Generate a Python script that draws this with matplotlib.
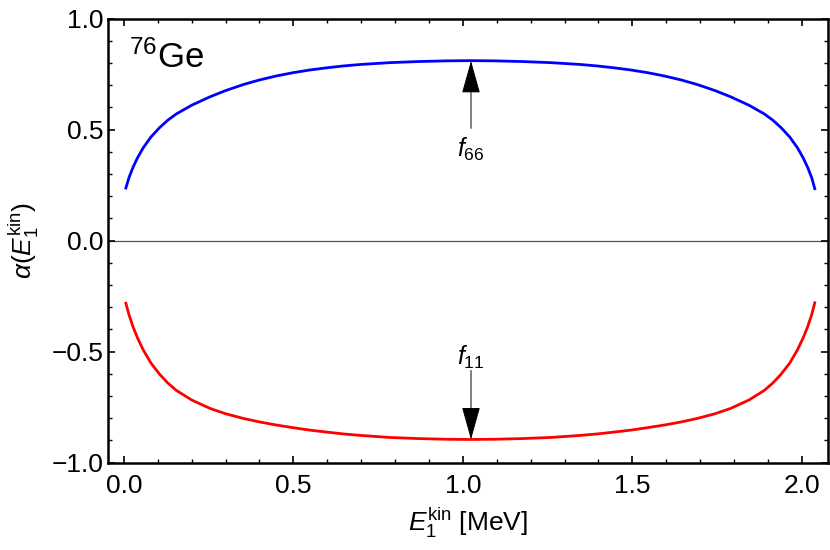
import matplotlib as mpl
mpl.use("agg")
import matplotlib.pyplot as plt
import numpy as np

plt.rcParams["font.family"] = ["Liberation Sans", "DejaVu Sans"]
plt.rcParams["mathtext.fontset"] = "custom"
plt.rcParams["mathtext.rm"] = "Liberation Sans"
plt.rcParams["mathtext.it"] = "Liberation Sans:italic"
plt.rcParams["mathtext.bf"] = "Liberation Sans:bold"

# kinetic energy of electron 1 [MeV]
energy = [0.006, 0.015, 0.027, 0.040, 0.057, 0.080, 0.106, 0.130, 0.155, 0.200,
          0.254, 0.300, 0.352, 0.400, 0.450, 0.500, 0.549, 0.600, 0.647, 0.700,
          0.785, 0.870, 0.950, 1.022,
          1.094, 1.174, 1.259, 1.344, 1.397, 1.444, 1.495, 1.544, 1.594, 1.644,
          1.692, 1.744, 1.790, 1.844, 1.889, 1.914, 1.938, 1.964, 1.987, 2.004,
          2.017, 2.029, 2.038]

# angular correlation coefficient, f66 (blue)
alpha_f66 = [0.237, 0.283, 0.330, 0.372, 0.418, 0.467, 0.510, 0.543, 0.571, 0.610,
             0.648, 0.676, 0.703, 0.724, 0.742, 0.757, 0.769, 0.779, 0.787, 0.794,
             0.802, 0.807, 0.810, 0.811,
             0.810, 0.807, 0.802, 0.794, 0.787, 0.779, 0.769, 0.757, 0.742, 0.724,
             0.703, 0.676, 0.648, 0.610, 0.571, 0.543, 0.510, 0.467, 0.418, 0.372,
             0.330, 0.283, 0.234]

# angular correlation coefficient, f11 (red)
alpha_f11 = [-0.282, -0.333, -0.388, -0.437, -0.492, -0.552, -0.603, -0.642, -0.675, -0.718,
             -0.756, -0.780, -0.801, -0.817, -0.831, -0.843, -0.854, -0.863, -0.871, -0.878,
             -0.887, -0.892, -0.895, -0.896,
             -0.895, -0.892, -0.887, -0.878, -0.871, -0.863, -0.854, -0.843, -0.831, -0.817,
             -0.801, -0.780, -0.756, -0.718, -0.675, -0.642, -0.603, -0.552, -0.492, -0.437,
             -0.388, -0.333, -0.280]

fig = plt.figure(figsize=(8.3, 5.5), dpi=100)
ax = fig.add_axes([0.130, 0.159, 0.8676, 0.807])

ax.axhline(0.0, color="#555555", lw=0.9, zorder=1)
ax.plot(energy, alpha_f66, color="#0000ff", lw=2, zorder=2)
ax.plot(energy, alpha_f11, color="#ff0000", lw=2, zorder=2)

arrow = dict(arrowstyle="-|>,head_length=1.0,head_width=0.28", mutation_scale=21,
             color="black", lw=0.7, shrinkA=0, shrinkB=0)
ax.annotate("", xy=(1.024, 0.81), xytext=(1.024, 0.506), arrowprops=arrow)
ax.annotate("", xy=(1.024, -0.896), xytext=(1.024, -0.585), arrowprops=arrow)
ax.text(1.024, 0.474, r"$f_{66}$", fontsize=18, ha="center", va="top")
ax.text(1.024, -0.589, r"$f_{11}$", fontsize=18, ha="center", va="bottom")

ax.text(0.015, 0.825, r"$^{76}$Ge", fontsize=25, ha="left", va="center")

fmt = mpl.ticker.FuncFormatter(lambda v, p: f"{v:.1f}".replace("-", "\u2212"))
ax.set_xlim(-0.047, 2.077)
ax.set_ylim(-1.0, 1.0)
ax.set_xticks(np.arange(0, 2.01, 0.5))
ax.set_xticks(np.arange(0, 2.08, 0.1), minor=True)
ax.set_yticks(np.arange(-1.0, 1.01, 0.5))
ax.set_yticks(np.arange(-1.0, 1.01, 0.1), minor=True)
ax.xaxis.set_major_formatter(fmt)
ax.yaxis.set_major_formatter(fmt)
ax.tick_params(which="both", direction="in", top=True, right=True, labelsize=19)
ax.tick_params(axis="x", which="both", pad=8)
ax.tick_params(axis="y", which="both", pad=3)
ax.tick_params(which="major", length=5, width=1.2)
ax.tick_params(which="minor", length=3, width=1.0)
for s in ax.spines.values():
    s.set_linewidth(1.8)

ax.set_xlabel(r"$E_1^{\mathrm{kin}}$ [MeV]", fontsize=19, labelpad=6)
ax.set_ylabel(r"$\alpha(E_1^{\mathrm{kin}})$", fontsize=19, labelpad=8)

plt.savefig("out.png", dpi=100)
